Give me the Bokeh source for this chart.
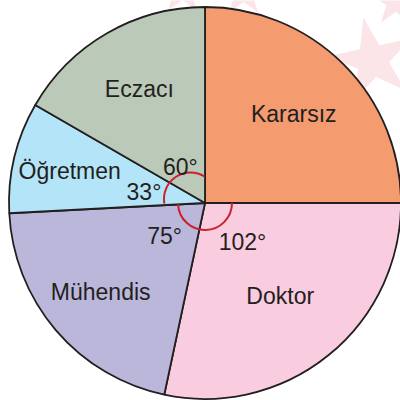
import numpy as np
from bokeh.plotting import figure
from bokeh.models import Range1d, ColumnDataSource
from bokeh.core.properties import value
from bokeh.embed import file_html
from bokeh.resources import INLINE

# ---- data ----
labels = ["Kararsız", "Doktor", "Mühendis", "Öğretmen", "Eczacı"]
degrees = [90, 102, 75, 33, 60]
colors = ["#F59B70", "#F9CCE0", "#BAB7DB", "#B4E4F7", "#BBC9B9"]
show_angle = [False, True, True, True, True]

# ---- geometry (page-pixel-like data coordinates, y up) ----
W = 400
CX, CY, R = 204.5, W - 202.5, 196.0
label_r = [0.64, 0.61, 0.70, 0.71, 0.67]
deg_r = [0, 54, 52, 62, 44]
deg_off = [0, 5, -1.5, 3.5, 4]

starts, ends, mids = [], [], []
cum = 0.0
for d in degrees:
    end = 90.0 - cum
    start = end - d
    starts.append(np.radians(start))
    ends.append(np.radians(end))
    mids.append((start + end) / 2.0)
    cum += d

src = ColumnDataSource(dict(start=starts, end=ends, color=colors, label=labels))

p = figure(width=W, height=W, output_backend="svg", toolbar_location=None,
           x_range=Range1d(0, W), y_range=Range1d(0, W), min_border=0)
p.axis.visible = False
p.grid.visible = False
p.outline_line_color = None
p.background_fill_color = "white"

# faint watermark stars
p.scatter(x=[372], y=[W - 60], marker="star", size=88, fill_color="#FCE5E8",
          line_color=None, angle=np.radians(12))
p.scatter(x=[395, 243, 182], y=[W - 2, W + 8, W + 10], marker="star", size=50,
          fill_color="#FCE5E8", line_color=None)

p.wedge(x=CX, y=CY, radius=R, start_angle="start", end_angle="end",
        direction="anticlock", fill_color="color", line_color="#231F20",
        line_width=1.8, source=src)

# angle arcs
p.arc(x=[CX], y=[CY], radius=27, start_angle=np.radians(183), end_angle=np.radians(360),
      direction="anticlock", line_color="#CE1F2F", line_width=2)
p.arc(x=[CX - 14.5], y=[CY + 4], radius=26.5, start_angle=np.radians(58),
      end_angle=np.radians(190), direction="anticlock", line_color="#CE1F2F", line_width=2)

# category labels
lx = [CX + R * f * np.cos(np.radians(m)) for f, m in zip(label_r, mids)]
ly = [CY + R * f * np.sin(np.radians(m)) for f, m in zip(label_r, mids)]
p.text(x=lx, y=ly, text=labels, text_font=value("Liberation Sans"), text_font_size="23px",
       text_align="center", text_baseline="middle", text_color="#231F20")

# degree labels
dx, dy, dt = [], [], []
for i, d in enumerate(degrees):
    if show_angle[i]:
        a = np.radians(mids[i] + deg_off[i])
        dx.append(CX + deg_r[i] * np.cos(a))
        dy.append(CY + deg_r[i] * np.sin(a))
        dt.append(f"{d}°")
p.text(x=dx, y=dy, text=dt, text_font=value("Liberation Sans"), text_font_size="23px",
       text_align="center", text_baseline="middle", text_color="#231F20")

open("out.html", "w").write(file_html(p, INLINE))
